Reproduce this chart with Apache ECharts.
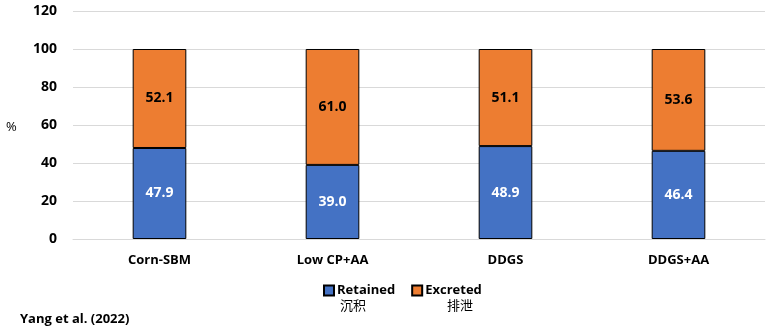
<!DOCTYPE html>
<html><head><meta charset="utf-8">
<script src="https://cdn.jsdelivr.net/npm/echarts@6/dist/echarts.min.js"></script>
<style>html,body{margin:0;padding:0;background:#fff}#c{width:775px;height:333px}</style>
</head><body><div id="c"></div>
<script>
const categories = ['Corn-SBM', 'Low CP+AA', 'DDGS', 'DDGS+AA'];
const retained = [47.9, 39.0, 48.9, 46.4];
const excreted = [52.1, 61.0, 51.1, 53.6];
const yTicks = {min: 0, max: 120, interval: 20};
const F = '"Open Sans", "Noto Sans", sans-serif';
const chart = echarts.init(document.getElementById('c'));
const lbl = (color) => ({show: true, position: 'inside', color: color, fontWeight: 'bold', fontSize: 14, fontFamily: F,
  formatter: p => p.value.toFixed(1)});
chart.setOption({
  animation: false,
  grid: {left: 73, right: 10, top: 11, bottom: 94},
  xAxis: {type: 'category', data: categories,
    axisLine: {lineStyle: {color: '#d9d9d9'}}, axisTick: {show: false},
    axisLabel: {color: '#000', fontWeight: 'bold', fontSize: 13, fontFamily: F, margin: 15}},
  yAxis: {type: 'value', min: yTicks.min, max: yTicks.max, interval: yTicks.interval,
    axisLine: {show: false}, axisTick: {show: false},
    splitLine: {lineStyle: {color: '#d9d9d9'}},
    axisLabel: {color: '#000', fontWeight: 'bold', fontSize: 14, fontFamily: F, margin: 16}},
  legend: {left: 318, top: 279, itemWidth: 10, itemHeight: 10, itemGap: 16,
    textStyle: {color: '#000', fontWeight: 'bold', fontSize: 13, fontFamily: F, padding: [0,0,0,-2]},
    data: [{name: 'Retained', icon: 'rect'}, {name: 'Excreted', icon: 'rect'}]},
  series: [
    {name: 'Retained', type: 'bar', stack: 's', data: retained, barWidth: '31%',
      itemStyle: {color: '#4472c4', borderColor: '#000', borderWidth: 1}, label: lbl('#fff')},
    {name: 'Excreted', type: 'bar', stack: 's', data: excreted, barWidth: '31%',
      itemStyle: {color: '#ed7d31', borderColor: '#000', borderWidth: 1}, label: lbl('#000')}
  ],
  graphic: [
    {type: 'text', left: 6, top: 121, style: {text: '%', fontSize: 13, fontFamily: F, fill: '#000'}},
    {type: 'text', left: 340, top: 299, style: {text: '沉积', fontSize: 13, fontFamily: '"Noto Sans CJK SC"', fill: '#000'}},
    {type: 'text', left: 447, top: 299, style: {text: '排泄', fontSize: 13, fontFamily: '"Noto Sans CJK SC"', fill: '#000'}},
    {type: 'text', left: 20, top: 313, style: {text: 'Yang et al. (2022)', fontSize: 13, fontWeight: 'bold', fontFamily: F, fill: '#000'}}
  ]
});
</script></body></html>
